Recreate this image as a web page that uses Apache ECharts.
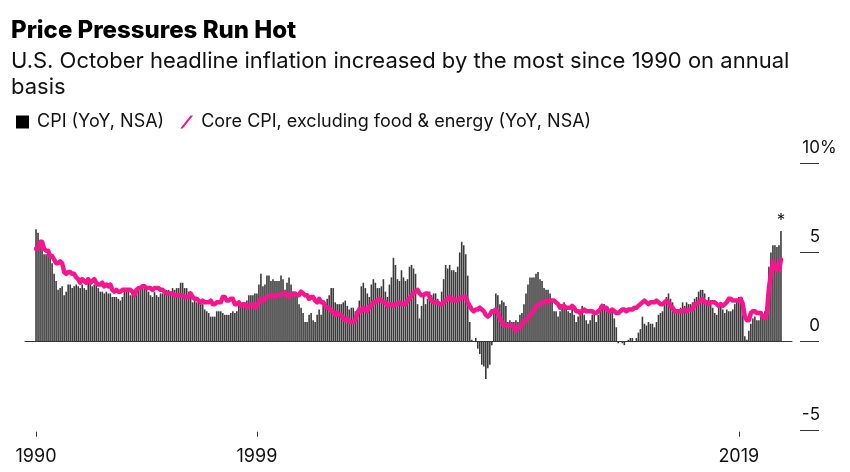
<!DOCTYPE html>
<html>
<head>
<meta charset="utf-8">
<script src="https://cdn.jsdelivr.net/npm/echarts@6/dist/echarts.min.js"></script>
<style>html,body{margin:0;padding:0;background:#fff}#c{width:850px;height:472px}</style>
</head>
<body>
<div id="c"></div>
<script>
// Monthly series, Nov 1990 .. Oct 2021
const startYear = 1990, startMonth = 11;
const cpi = [
  6.3, 6.1,
  5.7, 5.3, 4.9, 4.9, 5.0, 4.7, 4.4, 3.8, 3.4, 2.9, 3.0, 3.1,
  2.6, 2.8, 3.2, 3.2, 3.0, 3.1, 3.2, 3.1, 3.0, 3.2, 3.0, 2.9,
  3.3, 3.2, 3.1, 3.2, 3.2, 3.0, 2.8, 2.8, 2.7, 2.8, 2.7, 2.7,
  2.5, 2.5, 2.5, 2.4, 2.3, 2.5, 2.8, 2.9, 3.0, 2.6, 2.7, 2.7,
  2.8, 2.9, 2.9, 3.1, 3.2, 3.0, 2.8, 2.6, 2.5, 2.8, 2.6, 2.5,
  2.7, 2.7, 2.8, 2.9, 2.9, 2.8, 3.0, 2.9, 3.0, 3.0, 3.3, 3.3,
  3.0, 3.0, 2.8, 2.5, 2.2, 2.3, 2.2, 2.2, 2.2, 2.1, 1.8, 1.7,
  1.6, 1.4, 1.4, 1.4, 1.7, 1.7, 1.7, 1.6, 1.5, 1.5, 1.5, 1.6,
  1.7, 1.6, 1.7, 2.3, 2.1, 2.0, 2.1, 2.3, 2.6, 2.6, 2.6, 2.7,
  2.7, 3.2, 3.8, 3.1, 3.2, 3.7, 3.7, 3.4, 3.5, 3.4, 3.4, 3.4,
  3.7, 3.5, 2.9, 3.3, 3.6, 3.2, 2.7, 2.7, 2.6, 2.1, 1.9, 1.6,
  1.1, 1.1, 1.5, 1.6, 1.2, 1.1, 1.5, 1.8, 1.5, 2.0, 2.2, 2.4,
  2.6, 3.0, 3.0, 2.2, 2.1, 2.1, 2.1, 2.2, 2.3, 2.0, 1.8, 1.9,
  1.9, 1.7, 1.7, 2.3, 3.1, 3.3, 3.0, 2.7, 2.5, 3.2, 3.5, 3.3,
  3.0, 3.0, 3.1, 3.5, 2.8, 2.5, 3.2, 3.6, 4.7, 4.3, 3.5, 3.4,
  4.0, 3.6, 3.4, 3.5, 4.2, 4.3, 4.1, 3.8, 2.1, 1.3, 2.0, 2.5,
  2.1, 2.4, 2.8, 2.6, 2.7, 2.7, 2.4, 2.0, 2.8, 3.5, 4.3, 4.1,
  4.3, 4.0, 4.0, 3.9, 4.2, 5.0, 5.6, 5.4, 4.9, 3.7, 1.1, 0.1,
  0.0, 0.2, -0.4, -0.7, -1.3, -1.4, -2.1, -1.5, -1.3, -0.2, 1.8, 2.7,
  2.6, 2.1, 2.3, 2.2, 2.0, 1.1, 1.2, 1.1, 1.1, 1.2, 1.1, 1.5,
  1.6, 2.1, 2.7, 3.2, 3.6, 3.6, 3.6, 3.8, 3.9, 3.5, 3.4, 3.0,
  2.9, 2.9, 2.7, 2.3, 1.7, 1.7, 1.4, 1.7, 2.0, 2.2, 1.8, 1.7,
  1.6, 2.0, 1.5, 1.1, 1.4, 1.8, 2.0, 1.5, 1.2, 1.0, 1.2, 1.5,
  1.6, 1.1, 1.5, 2.0, 2.1, 2.1, 2.0, 1.7, 1.7, 1.7, 1.3, 0.8,
  -0.1, 0.0, -0.1, -0.2, 0.0, 0.1, 0.2, 0.2, 0.0, 0.2, 0.5, 0.7,
  1.4, 1.0, 0.9, 1.1, 1.0, 1.0, 0.8, 1.1, 1.5, 1.6, 1.7, 2.1,
  2.5, 2.7, 2.4, 2.2, 1.9, 1.6, 1.7, 1.9, 2.2, 2.0, 2.2, 2.1,
  2.1, 2.2, 2.4, 2.5, 2.8, 2.9, 2.9, 2.7, 2.3, 2.5, 2.2, 1.9,
  1.6, 1.5, 1.9, 2.0, 1.8, 1.6, 1.8, 1.7, 1.7, 1.8, 2.1, 2.3,
  2.5, 2.3, 1.5, 0.3, 0.1, 0.6, 1.0, 1.3, 1.4, 1.2, 1.2, 1.4,
  1.4, 1.7, 2.6, 4.2, 5.0, 5.4, 5.4, 5.3, 5.4, 6.2
];
const core = [
  5.2, 5.2,
  5.6, 5.6, 5.2, 5.1, 5.1, 4.8, 4.8, 4.6, 4.4, 4.4, 4.5, 4.4,
  3.9, 3.8, 3.9, 3.9, 3.8, 3.8, 3.6, 3.5, 3.3, 3.5, 3.4, 3.3,
  3.5, 3.3, 3.4, 3.5, 3.3, 3.2, 3.2, 3.3, 3.1, 3.2, 3.1, 3.2,
  2.9, 2.8, 2.9, 2.8, 2.8, 2.9, 2.9, 2.9, 2.9, 2.9, 2.8, 2.6,
  2.9, 3.0, 3.0, 3.1, 3.1, 3.0, 3.0, 3.0, 2.9, 3.0, 3.0, 3.0,
  2.9, 2.9, 2.8, 2.7, 2.7, 2.7, 2.7, 2.6, 2.6, 2.6, 2.6, 2.6,
  2.5, 2.5, 2.5, 2.7, 2.5, 2.4, 2.4, 2.3, 2.2, 2.3, 2.2, 2.2,
  2.2, 2.3, 2.1, 2.1, 2.2, 2.2, 2.2, 2.5, 2.5, 2.3, 2.3, 2.4,
  2.4, 2.1, 2.1, 2.2, 2.0, 2.1, 2.1, 1.9, 2.0, 2.1, 2.1, 1.9,
  2.0, 2.2, 2.4, 2.3, 2.4, 2.5, 2.5, 2.6, 2.6, 2.5, 2.6, 2.6,
  2.6, 2.7, 2.7, 2.6, 2.5, 2.7, 2.7, 2.7, 2.6, 2.6, 2.8, 2.7,
  2.6, 2.6, 2.4, 2.5, 2.5, 2.3, 2.2, 2.4, 2.2, 2.2, 2.0, 1.9,
  1.9, 1.7, 1.7, 1.5, 1.6, 1.5, 1.5, 1.3, 1.2, 1.3, 1.1, 1.1,
  1.1, 1.2, 1.6, 1.8, 1.7, 1.9, 1.8, 1.7, 2.0, 2.0, 2.2, 2.2,
  2.3, 2.4, 2.3, 2.2, 2.2, 2.0, 2.1, 2.1, 2.0, 2.1, 2.1, 2.2,
  2.1, 2.1, 2.1, 2.3, 2.4, 2.6, 2.7, 2.8, 2.9, 2.7, 2.6, 2.6,
  2.7, 2.7, 2.5, 2.3, 2.2, 2.2, 2.2, 2.1, 2.1, 2.2, 2.3, 2.4,
  2.5, 2.3, 2.4, 2.3, 2.3, 2.4, 2.5, 2.5, 2.5, 2.2, 2.0, 1.8,
  1.7, 1.8, 1.8, 1.9, 1.8, 1.7, 1.5, 1.4, 1.5, 1.7, 1.7, 1.8,
  1.6, 1.3, 1.1, 0.9, 0.9, 0.9, 0.9, 0.9, 0.8, 0.6, 0.8, 0.8,
  1.0, 1.1, 1.2, 1.3, 1.5, 1.6, 1.8, 2.0, 2.0, 2.1, 2.2, 2.2,
  2.3, 2.2, 2.3, 2.3, 2.3, 2.2, 2.1, 1.9, 2.0, 2.0, 1.9, 1.9,
  1.9, 2.0, 1.9, 1.7, 1.7, 1.6, 1.7, 1.8, 1.7, 1.7, 1.7, 1.7,
  1.6, 1.6, 1.7, 1.8, 2.0, 1.9, 1.9, 1.7, 1.7, 1.8, 1.7, 1.6,
  1.6, 1.7, 1.8, 1.8, 1.7, 1.8, 1.8, 1.8, 1.9, 1.9, 2.0, 2.1,
  2.2, 2.3, 2.2, 2.1, 2.2, 2.2, 2.2, 2.3, 2.2, 2.1, 2.1, 2.2,
  2.3, 2.2, 2.0, 1.9, 1.7, 1.7, 1.7, 1.7, 1.7, 1.8, 1.7, 1.8,
  1.8, 1.8, 2.1, 2.1, 2.2, 2.3, 2.4, 2.2, 2.2, 2.1, 2.2, 2.2,
  2.2, 2.1, 2.0, 2.1, 2.0, 2.1, 2.2, 2.4, 2.4, 2.3, 2.3, 2.3,
  2.3, 2.4, 2.1, 1.4, 1.2, 1.2, 1.6, 1.7, 1.7, 1.6, 1.6, 1.6,
  1.4, 1.3, 1.6, 3.0, 3.8, 4.5, 4.3, 4.0, 4.0, 4.6
];
const tickMonths = ['1990-11', '2000-01', '2020-01'];
const tickLabels = ['1990', '1999', '2019'];
const yTicks = [-5, 0, 5, 10];
const yTickLabels = ['-5', '0', '5', '10'];
const yTickSuffix = [' ', ' ', ' ', '%'];

// month labels for each point
const months = cpi.map((_, i) => {
  const m = startMonth - 1 + i;
  const y = startYear + Math.floor(m / 12);
  const mm = (m % 12) + 1;
  return y + '-' + (mm < 10 ? '0' + mm : '' + mm);
});
const tickIdx = tickMonths.map(t => months.indexOf(t));

const FONT = 'Inter, "Liberation Sans", Arial, sans-serif';
const PINK = '#f7158e';
const cpiName = 'CPI (YoY, NSA)';
const coreName = 'Core CPI, excluding food & energy (YoY, NSA)';

const cpiData = cpi.map((v, i) => i === cpi.length - 1
  ? { value: [i, v], label: { show: true, formatter: '*', position: 'top', distance: 2, fontSize: 17, color: '#111', fontFamily: FONT } }
  : [i, v]);
const coreData = core.map((v, i) => [i, v]);

const chart = echarts.init(document.getElementById('c'), null, { renderer: 'canvas' });
const xMin = -5.5, xMax = cpi.length + 4.5;
chart.setOption({
  animation: false,
  backgroundColor: '#fff',
  textStyle: { fontFamily: FONT },
  title: [
    { text: 'Price Pressures Run Hot', left: 11, top: 19, padding: 0,
      textStyle: { fontSize: 24, fontWeight: 800, color: '#000', fontFamily: FONT } },
    { text: 'U.S. October headline inflation increased by the most since 1990 on annual\nbasis', left: 11, top: 48, padding: 0,
      textStyle: { fontSize: 22, fontWeight: 'normal', lineHeight: 26, color: '#111', fontFamily: FONT } }
  ],
  legend: {
    left: 16, top: 113, padding: 0, itemWidth: 13, itemHeight: 13, itemGap: 16,
    selectedMode: false,
    textStyle: { fontSize: 18, color: '#111', fontFamily: FONT, padding: [0, 0, 0, 3] },
    data: [
      { name: cpiName, icon: 'rect', itemStyle: { color: '#000' } },
      { name: coreName, icon: 'path://M12,0 L15,0 L3,15 L0,15 Z', itemStyle: { color: PINK } }
    ]
  },
  grid: { left: 25, right: 58, top: 163.3, bottom: 41.3 },
  xAxis: [
    { type: 'value', min: xMin, max: xMax, position: 'bottom',
      axisLine: { show: true, onZero: true, lineStyle: { color: '#333', width: 1 } },
      axisTick: { show: false }, axisLabel: { show: false }, splitLine: { show: false } },
    { type: 'value', min: xMin, max: xMax, position: 'bottom', offset: 1,
      axisLine: { show: false, onZero: false },
      axisTick: { show: true, customValues: tickIdx, length: 5, lineStyle: { color: '#333' } },
      axisLabel: { show: true, customValues: tickIdx, margin: 16, fontSize: 18, color: '#111', fontFamily: FONT,
        formatter: v => tickLabels[tickIdx.indexOf(v)] },
      splitLine: { show: false } }
  ],
  yAxis: {
    type: 'value', min: -5, max: 10, interval: 5, position: 'right', offset: 8,
    axisLine: { show: false, onZero: false },
    axisTick: { show: true, length: 19, inside: false, lineStyle: { color: '#333', width: 1 } },
    axisLabel: { show: true, align: 'right', verticalAlign: 'bottom', margin: 36, fontSize: 17, color: '#111',
      fontFamily: FONT, padding: [0, 0, 7, 0],
      formatter: v => {
        const k = yTicks.indexOf(v);
        return '{n|' + yTickLabels[k] + '}{p|' + yTickSuffix[k] + '}';
      },
      rich: {
        n: { fontSize: 17, color: '#111', fontFamily: FONT, align: 'left' },
        p: { width: 16, fontSize: 17, color: '#111', fontFamily: FONT, align: 'left' }
      } },
    splitLine: { show: false }
  },
  series: [
    { name: cpiName, type: 'bar', xAxisIndex: 0, data: cpiData, barWidth: 1.6,
      itemStyle: { color: '#3a3a3a' }, emphasis: { disabled: true } },
    { name: coreName, type: 'line', xAxisIndex: 0, data: coreData, showSymbol: false, symbol: 'none',
      color: PINK, lineStyle: { color: PINK, width: 4.5, join: 'round', cap: 'round' }, z: 3 }
  ]
});
</script>
</body>
</html>
